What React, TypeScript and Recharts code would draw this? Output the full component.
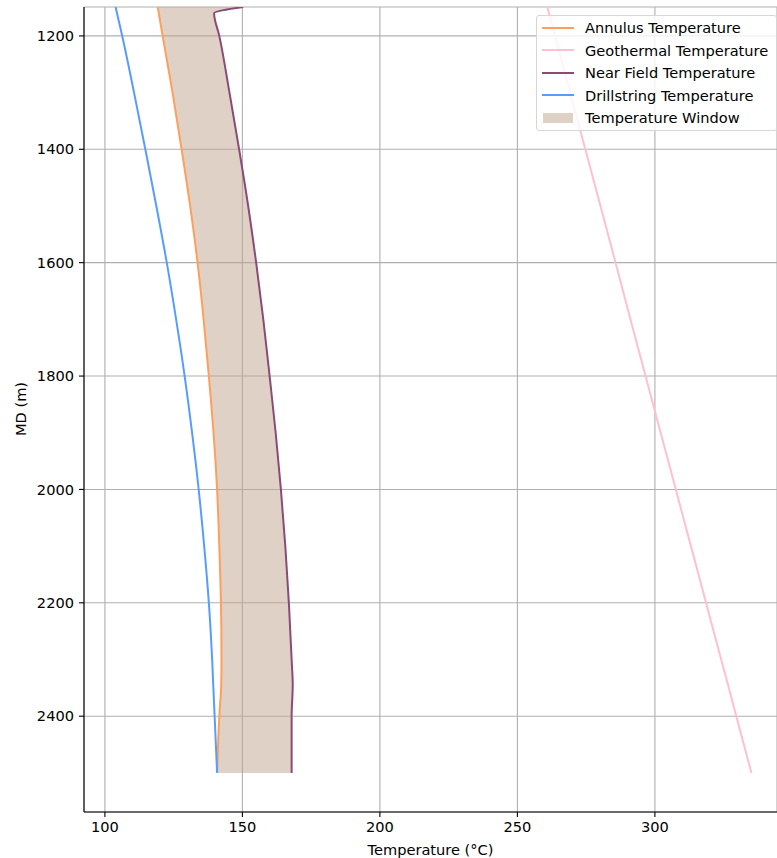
import {
  ComposedChart,
  Line,
  Area,
  XAxis,
  YAxis,
  CartesianGrid,
  Legend,
  Label,
} from "recharts";

const FONT = "'DejaVu Sans', sans-serif";
const FONT_SIZE = 14.6;

const MD = [1149, 1160, 1200, 1300, 1400, 1500, 1600, 1700, 1800, 1900, 2000, 2100, 2200, 2300, 2345, 2400, 2500];
const ANNULUS = [119.2, 119.6, 121.0, 124.6, 127.9, 131.0, 133.7, 135.9, 137.8, 139.5, 140.8, 141.6, 142.2, 142.4, 142.3, 141.6, 140.8];
const GEOTHERMAL = [260.9, 261.5, 263.7, 269.2, 274.7, 280.2, 285.7, 291.1, 296.6, 302.1, 307.6, 313.1, 318.6, 324.1, 326.6, 329.6, 335.1];
const NEAR_FIELD = [150.3, 139.7, 141.6, 145.3, 148.8, 152.1, 155.0, 157.6, 159.9, 162.1, 164.0, 165.6, 166.9, 167.9, 168.3, 167.9, 167.9];
const DRILLSTRING = [103.9, 104.4, 106.3, 110.6, 114.7, 118.7, 122.5, 125.9, 129.0, 131.7, 134.1, 136.1, 137.8, 139.0, 139.4, 139.9, 140.8];

const X_TICKS = [100, 150, 200, 250, 300];
const Y_TICKS = [1200, 1400, 1600, 1800, 2000, 2200, 2400];

const SERIES = [
  { key: "annulus", name: "Annulus Temperature", color: "#ff9f5c" },
  { key: "geothermal", name: "Geothermal Temperature", color: "#ffc0d0" },
  { key: "nearField", name: "Near Field Temperature", color: "#8a4b76" },
  { key: "drillstring", name: "Drillstring Temperature", color: "#579cff" },
];
const WINDOW = { name: "Temperature Window", color: "#c2a48d" };

const data = MD.map((md, i) => ({
  md,
  annulus: ANNULUS[i],
  geothermal: GEOTHERMAL[i],
  nearField: NEAR_FIELD[i],
  drillstring: DRILLSTRING[i],
  window: [ANNULUS[i], NEAR_FIELD[i]],
}));

const tickStyle = { fontSize: FONT_SIZE, fontFamily: FONT, fill: "#000" };

function LegendBox() {
  return (
    <div
      style={{
        border: "1px solid #d6d6d6",
        borderRadius: 3,
        background: "rgba(255,255,255,0.8)",
        padding: "1px 0",
        fontFamily: FONT,
        fontSize: FONT_SIZE,
        color: "#000",
        whiteSpace: "nowrap",
      }}
    >
      {SERIES.map((s) => (
        <div key={s.key} style={{ display: "flex", alignItems: "center", height: 22.5 }}>
          <div style={{ width: 32, height: 2, background: s.color, marginLeft: 5, marginRight: 11 }} />
          <span>{s.name}</span>
        </div>
      ))}
      <div style={{ display: "flex", alignItems: "center", height: 22.5 }}>
        <div style={{ width: 30, height: 10, background: WINDOW.color, opacity: 0.5, marginLeft: 6, marginRight: 12 }} />
        <span>{WINDOW.name}</span>
      </div>
    </div>
  );
}

export default function App() {
  return (
    <div style={{ position: "absolute", left: 0, top: 0 }}>
      <ComposedChart
        width={777}
        height={858}
        data={data}
        layout="vertical"
        margin={{ top: 7, right: 0, bottom: 0, left: 0 }}
      >
        <CartesianGrid stroke="#b0b0b0" strokeWidth={1.1} />
        <XAxis
          type="number"
          domain={[92.4, 344.4]}
          ticks={X_TICKS}
          allowDataOverflow
          height={46}
          tickSize={5}
          tickMargin={5}
          tick={tickStyle}
          stroke="#000"
          axisLine={{ stroke: "#000", strokeWidth: 1.1 }}
          tickLine={{ stroke: "#000", strokeWidth: 1.1 }}
        >
          <Label
            value="Temperature (°C)"
            position="insideBottom"
            offset={3}
            style={{ fontSize: FONT_SIZE, fontFamily: FONT, fill: "#000" }}
          />
        </XAxis>
        <XAxis
          xAxisId="top"
          orientation="top"
          type="number"
          domain={[92.4, 344.4]}
          height={0}
          tick={false}
          tickLine={false}
          axisLine={{ stroke: "#000", strokeWidth: 1.1 }}
        />
        <YAxis
          type="number"
          dataKey="md"
          domain={[1149, 2569]}
          ticks={Y_TICKS}
          allowDataOverflow
          width={84}
          tickSize={5}
          tickMargin={5}
          tick={tickStyle}
          axisLine={{ stroke: "#000", strokeWidth: 1.1 }}
          tickLine={{ stroke: "#000", strokeWidth: 1.1 }}
        >
          <Label
            content={() => (
              <text
                x={20}
                y={409}
                transform="rotate(-90, 20, 409)"
                textAnchor="middle"
                dominantBaseline="central"
                style={{ fontSize: FONT_SIZE, fontFamily: FONT, fill: "#000" }}
              >
                MD (m)
              </text>
            )}
          />
        </YAxis>
        <Area
          dataKey="window"
          name={WINDOW.name}
          type="monotoneY"
          fill={WINDOW.color}
          fillOpacity={0.5}
          stroke="none"
          isAnimationActive={false}
        />
        {SERIES.map((s) => (
          <Line
            key={s.key}
            dataKey={s.key}
            name={s.name}
            type="monotoneY"
            stroke={s.color}
            strokeWidth={2}
            dot={false}
            isAnimationActive={false}
          />
        ))}
        <Legend
          layout="vertical"
          verticalAlign="middle"
          align="center"
          content={() => <LegendBox />}
          wrapperStyle={{ top: 14.5, left: 536, right: "auto", bottom: "auto", width: 241 }}
        />
      </ComposedChart>
    </div>
  );
}
